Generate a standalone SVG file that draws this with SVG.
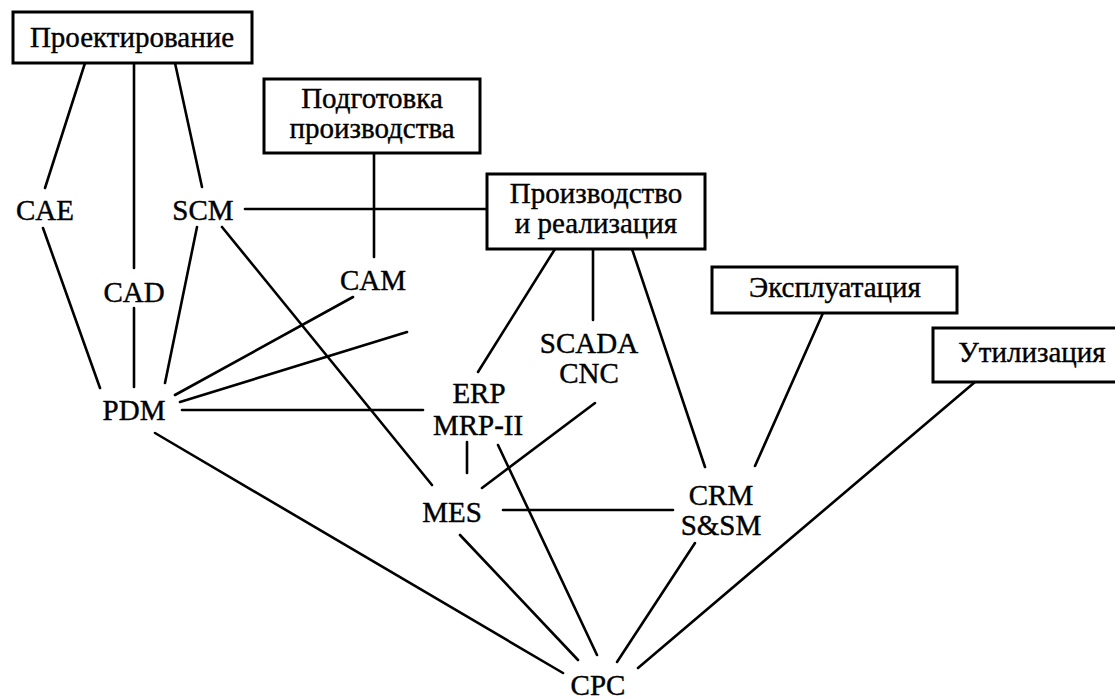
<svg xmlns="http://www.w3.org/2000/svg" width="1115" height="699" viewBox="0 0 1115 699">
<style>
.box{fill:#fff;stroke:#000;stroke-width:3}
.t{font-family:'Liberation Serif','DejaVu Serif','Noto Serif',serif;font-size:29px;fill:#000;stroke:#000;stroke-width:0.4;text-anchor:middle}
.c line{stroke:#000;stroke-width:2.6;stroke-linecap:round}
</style>
<rect width="1115" height="699" fill="#fff"/>
<g class="c" id="connectors">
<line x1="85" y1="63" x2="45" y2="188"/>
<line x1="43" y1="228" x2="100" y2="388"/>
<line x1="134" y1="63" x2="134" y2="268"/>
<line x1="134" y1="308" x2="134" y2="387"/>
<line x1="175" y1="63" x2="202" y2="187"/>
<line x1="197" y1="227" x2="165" y2="383"/>
<line x1="222" y1="227" x2="432" y2="485"/>
<line x1="245" y1="209" x2="487" y2="209"/>
<line x1="374" y1="153" x2="374" y2="257"/>
<line x1="175" y1="395" x2="353" y2="297"/>
<line x1="180" y1="402" x2="407" y2="332"/>
<line x1="182" y1="410" x2="423" y2="410"/>
<line x1="155" y1="433" x2="563" y2="673"/>
<line x1="555" y1="249" x2="478" y2="372"/>
<line x1="593" y1="249" x2="593" y2="320"/>
<line x1="632" y1="249" x2="705" y2="467"/>
<line x1="595" y1="403" x2="482" y2="488"/>
<line x1="467" y1="442" x2="467" y2="473"/>
<line x1="498" y1="445" x2="597" y2="655"/>
<line x1="503" y1="510" x2="673" y2="510"/>
<line x1="460" y1="535" x2="578" y2="660"/>
<line x1="823" y1="313" x2="755" y2="466"/>
<line x1="695" y1="543" x2="617" y2="662"/>
<line x1="975" y1="382" x2="638" y2="668"/>
</g>
<g id="proektirovanie"><rect class="box" x="13" y="12" width="239" height="51"/><text class="t" x="132" y="47">Проектирование</text></g>
<g id="podgotovka"><rect class="box" x="264" y="79" width="216" height="74"/><text class="t" x="372" y="108">Подготовка</text><text class="t" x="372" y="138">производства</text></g>
<g id="proizvodstvo"><rect class="box" x="487" y="174" width="218" height="75"/><text class="t" x="596" y="203">Производство</text><text class="t" x="596" y="233">и реализация</text></g>
<g id="ekspluatatsiya"><rect class="box" x="712" y="267" width="245" height="46"/><text class="t" x="835" y="297">Эксплуатация</text></g>
<g id="utilizatsiya"><rect class="box" x="933" y="328" width="190" height="54"/><text class="t" x="1032" y="362">Утилизация</text></g>
<g id="cae"><text class="t" x="45" y="220">CAE</text></g>
<g id="scm"><text class="t" x="203" y="220">SCM</text></g>
<g id="cad"><text class="t" x="134" y="302">CAD</text></g>
<g id="cam"><text class="t" x="373" y="290">CAM</text></g>
<g id="pdm"><text class="t" x="134" y="420">PDM</text></g>
<g id="scada"><text class="t" x="589" y="353">SCADA</text><text class="t" x="589" y="383">CNC</text></g>
<g id="erp"><text class="t" x="479" y="403">ERP</text><text class="t" x="478" y="435">MRP-II</text></g>
<g id="mes"><text class="t" x="452" y="522">MES</text></g>
<g id="crm"><text class="t" x="721" y="505">CRM</text><text class="t" x="721" y="535">S&amp;SM</text></g>
<g id="cpc"><text class="t" x="598" y="695">CPC</text></g>
</svg>
